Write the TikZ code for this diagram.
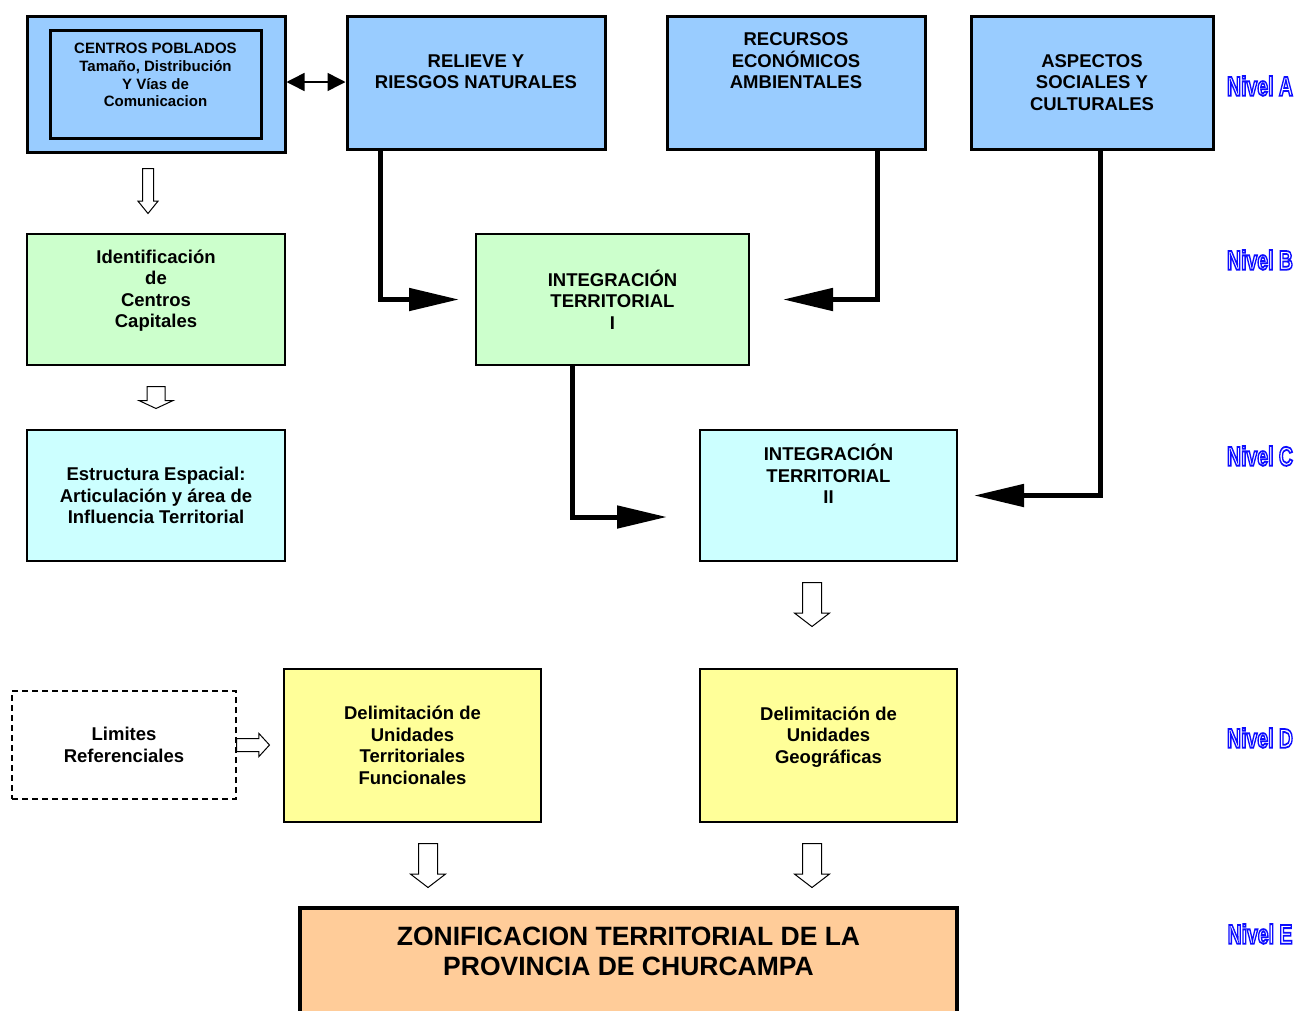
\documentclass[tikz,border=0pt]{standalone}
\usepackage{fontspec}
\setmainfont{Liberation Sans}
\usetikzlibrary{positioning,shapes,arrows.meta}

\definecolor{azul}{HTML}{99CCFF}
\definecolor{verde}{HTML}{CCFFCC}
\definecolor{celeste}{HTML}{CCFFFF}
\definecolor{amarillo}{HTML}{FFFF99}
\definecolor{naranja}{HTML}{FFCC99}
\newcommand{\nivel}[1]{\scalebox{0.72}[1]{\special{pdf:literal direct 2 Tr 1.8 w 0.05 0.05 1 RG}Nivel #1\special{pdf:literal direct 0 Tr}}}

\begin{document}
\begin{tikzpicture}[x=1pt,y=-1pt,
	box/.style={draw,line width=2pt,inner sep=0pt,align=center,
		font=\bfseries\fontsize{18.5}{21.5}\selectfont,
		minimum width=258pt,minimum height=131pt},
	boxA/.style={box,fill=azul,line width=3pt,minimum height=133pt},
	flow/.style={line width=5pt,-{Triangle[length=50pt,width=22pt]}},
	hollow/.style={single arrow,draw,fill=white,line width=1pt,inner xsep=0pt,rotate=-90,anchor=tail},
	nivel/.style={text=white,font=\bfseries\fontsize{27}{27}\selectfont}]

		\useasboundingbox (0,0) rectangle (1296,1010);
		\clip (0,0) rectangle (1296,1010);

		\node[boxA,minimum height=136pt] (centros) at (156,84) {};
		\node[draw,line width=3pt,inner sep=0pt,minimum width=211pt,minimum height=108pt,align=center,
			font=\bfseries\fontsize{15}{17.7}\selectfont] (poblados) at (155.5,84)
			{CENTROS POBLADOS\\Tamaño, Distribución\\Y Vías de\\Comunicacion\\~};
		\node[boxA] (relieve) at (476,82.5) {RELIEVE Y\\RIESGOS NATURALES\\~};
		\node[boxA] (recursos) at (796,82.5) {RECURSOS\\ECONÓMICOS\\AMBIENTALES\\~\\~};
		\node[boxA,minimum width=242pt] (aspectos) at (1092,82.5) {ASPECTOS\\SOCIALES Y\\CULTURALES};

		\node[box,fill=verde] (ident) at (156,299.5) {Identificación\\de\\Centros\\Capitales\\~};
		\node[box,fill=verde,minimum width=273pt] (integ1) at (612.5,299.5) {INTEGRACIÓN\\TERRITORIAL\\I};

		\node[box,fill=celeste] (estructura) at (156,495.5) {Estructura Espacial:\\Articulación y área de\\Influencia Territorial};
		\node[box,fill=celeste,minimum width=257pt] (integ2) at (828.5,495.5) {INTEGRACIÓN\\TERRITORIAL\\II\\~\\~};

		\node[box,line width=1.5pt,dash pattern=on 6pt off 4pt,minimum width=224pt,minimum height=108pt] (limites) at (124,745) {Limites\\Referenciales};
		\node[box,fill=amarillo,minimum width=257pt,minimum height=153pt] (funcional) at (412.5,745.5) {Delimitación de\\Unidades\\Territoriales\\Funcionales};
		\node[box,fill=amarillo,minimum width=257pt,minimum height=153pt] (geograf) at (828.5,745.5) {Delimitación de\\Unidades\\Geográficas\\~};

		\node[draw,fill=naranja,line width=4pt,minimum width=657pt,minimum height=140pt] (zonif) at (628.5,978) {};
		\node[align=center,font=\bfseries\fontsize{26.5}{30}\selectfont] (ztitulo) at (628.5,951) {ZONIFICACION TERRITORIAL DE LA\\PROVINCIA DE CHURCAMPA};

		\draw[line width=1.5pt,{Triangle[length=18pt,width=18pt]}-{Triangle[length=18pt,width=18pt]}] (centros.east |- 0,82) -- (relieve.west |- 0,82);

		\draw[flow] ([xshift=-96pt]relieve.south) |- ([xshift=-16pt]integ1.west);
		\draw[flow] ([xshift=81pt]recursos.south) |- ([xshift=33pt]integ1.east);
		\draw[flow] ([xshift=-40.5pt]integ1.south) |- ([xshift=-32pt,yshift=-21.5pt]integ2.west);
		\draw[flow] ([xshift=8pt]aspectos.south) |- ([xshift=16pt]integ2.east);

		\node[hollow,minimum height=45pt,inner ysep=5pt,single arrow head extend=4.5pt,single arrow tip angle=78] (f1) at (148,168) {};
		\node[hollow,minimum height=22pt,inner ysep=8.5pt,single arrow head extend=8pt,single arrow tip angle=130] (f2) at (156,386) {};
		\node[hollow,rotate=90,minimum height=33pt,inner ysep=6pt,single arrow head extend=5pt,single arrow tip angle=95] (f3) at (236,745) {};
		\node[hollow,minimum height=44pt,inner ysep=9pt,single arrow head extend=8pt,single arrow tip angle=105] (f4) at (812,582) {};
		\node[hollow,minimum height=44pt,inner ysep=9pt,single arrow head extend=8pt,single arrow tip angle=105] (f5) at (428,843) {};
		\node[hollow,minimum height=44pt,inner ysep=9pt,single arrow head extend=8pt,single arrow tip angle=105] (f6) at (812,843) {};

		\node[nivel] (nivA) at (1260,86) {\nivel{A}};
		\node[nivel] (nivB) at (1260,260) {\nivel{B}};
		\node[nivel] (nivC) at (1260,456) {\nivel{C}};
		\node[nivel] (nivD) at (1260,738) {\nivel{D}};
		\node[nivel] (nivE) at (1260,934) {\nivel{E}};
	\end{tikzpicture}
\end{document}
